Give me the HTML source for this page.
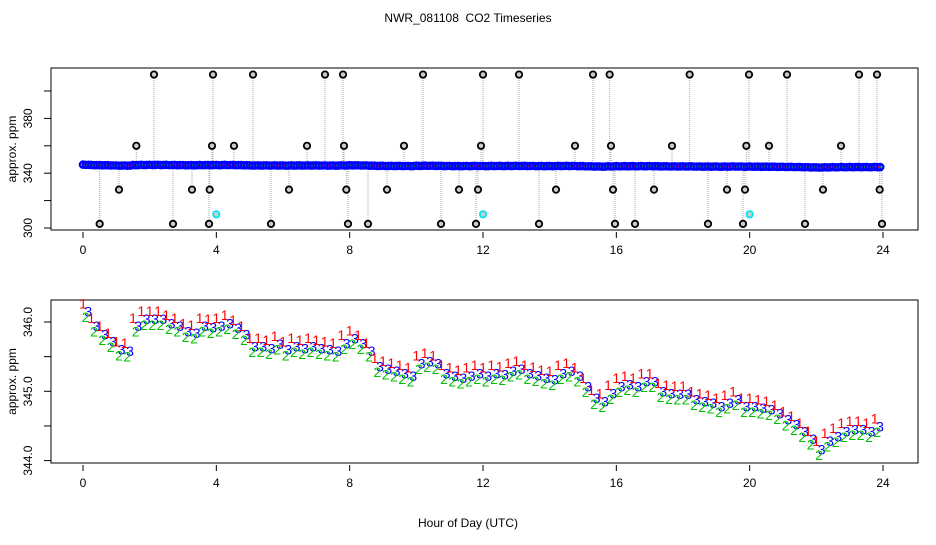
<!DOCTYPE html>
<html><head><meta charset="utf-8"><style>
body{margin:0;background:#fff}
svg text{font-family:"Liberation Sans",sans-serif;font-size:12px;fill:#000}
</style></head><body>
<svg id="c" width="936" height="540" xmlns="http://www.w3.org/2000/svg">
<text x="468" y="22" text-anchor="middle" style="white-space:pre">NWR_081108  CO2 Timeseries</text>
<text x="468" y="527" text-anchor="middle">Hour of Day (UTC)</text>
<g id="topPanel"></g>
<g id="botPanel"></g>
</svg>
<script>
const baseValues=[346.17,345.96,345.84,345.74,345.62,345.60,345.96,346.06,346.06,346.06,346.00,345.96,345.88,345.86,345.96,345.94,
345.96,346.00,345.93,345.84,345.67,345.67,345.64,345.70,345.62,345.67,345.64,345.67,345.64,345.62,345.60,345.71,
345.78,345.71,345.60,345.38,345.34,345.31,345.28,345.24,345.42,345.45,345.42,345.28,345.24,345.21,345.24,345.28,
345.24,345.28,345.26,345.31,345.34,345.28,345.25,345.21,345.19,345.28,345.31,345.24,345.09,344.92,344.87,344.99,
345.09,345.12,345.09,345.16,345.16,345.02,344.99,344.98,344.98,344.90,344.87,344.85,344.80,344.85,344.90,344.80,
344.80,344.78,344.76,344.70,344.61,344.54,344.44,344.33,344.18,344.30,344.37,344.44,344.47,344.47,344.44,344.51];
const timeStep=0.25;
const seriesLabels=["1","2","3"];
const seriesOffsets=[0.1,-0.1,-0.02];
const seriesTimeShift=[0.0,0.08,0.16];
const outlierTimes=[0.5,1.08,1.6,2.13,2.7,3.27,3.78,3.8,3.87,3.9,4.53,5.1,5.64,6.18,6.72,7.26,7.8,7.83,7.9,7.95,
8.55,9.12,9.63,10.2,10.74,11.28,11.79,11.85,11.94,12.0,13.08,13.68,14.19,14.76,15.3,15.8,15.84,15.9,15.96,
16.56,17.13,17.67,18.2,18.75,19.32,19.8,19.86,19.9,19.98,20.58,21.12,21.66,22.2,22.74,23.28,23.82,23.9,23.97];
const outlierValues=[303,328,360,412,303,328,303,328,360,412,360,412,303,328,360,412,412,360,328,303,
303,328,360,412,303,328,303,328,360,412,412,303,328,360,412,412,360,328,303,
303,328,360,412,303,328,303,328,360,412,360,412,303,328,360,412,412,328,303];
const calTimes=[4.0,12.0,20.0];
const calValues=[310,310,310];
const xTicks=[0,4,8,12,16,20,24];
const topTicks=[300,320,340,360,380,400];
const topTickLabels=["300","","340","","380",""];
const botTicks=[344.0,344.5,345.0,345.5,346.0];
const botTickLabels=["344.0","","345.0","","346.0"];

const NS="http://www.w3.org/2000/svg";
function mk(p,t,a){const e=document.createElementNS(NS,t);for(const k in a)e.setAttribute(k,a[k]);p.appendChild(e);return e;}
const X=h=>83+h*(800/24);
const Ytop=v=>228-(v-300)*1.37;
const Ybot=v=>322-(v-346)*69.3;

function frame(g,y0,y1,ticks,labels,Y,name){
  const r=mk(g,'rect',{x:51,y:y0,width:867,height:y1-y0,fill:'none',stroke:'#000'});
  
  
  xTicks.forEach(h=>{
    const l=mk(g,'line',{x1:X(h),x2:X(h),y1:y1+2,y2:y1+8,stroke:'#000'});
    
    
    const t=mk(g,'text',{x:X(h),y:y1+24,'text-anchor':'middle'});t.textContent=h;
    
    
  });
  ticks.forEach((v,i)=>{
    const y=Y(v);
    const l=mk(g,'line',{x1:44,x2:51,y1:y,y2:y,stroke:'#000'});
    
    
    if(labels[i]){const t=mk(g,'text',{x:32,y:y,'text-anchor':'middle',transform:`rotate(-90 32 ${y})`});t.textContent=labels[i];
    
    }
  });
  const yt=mk(g,'text',{x:16,y:(y0+y1)/2,'text-anchor':'middle',transform:`rotate(-90 16 ${(y0+y1)/2})`});yt.textContent='approx. ppm';
  
  
}
const topG=document.getElementById('topPanel'),botG=document.getElementById('botPanel');
frame(topG,68,230,topTicks,topTickLabels,Ytop,'top');
frame(botG,300,463,botTicks,botTickLabels,Ybot,'bottom');

outlierTimes.forEach((h,i)=>{
  const l=mk(topG,'line',{x1:X(h),x2:X(h),y1:Ytop(346),y2:Ytop(outlierValues[i]),stroke:'#aaa','stroke-dasharray':'1 1'});
  
  
});
const innerCols=['#ff0000','#00cc00'];
baseValues.forEach((v,i)=>{
  for(let k=0;k<3;k++){
    const h=i*timeStep+k*0.083;
    const c=mk(topG,'circle',{cx:X(h),cy:Ytop(v+seriesOffsets[k]),r:3.2,fill:'none',stroke:'#0000ff','stroke-width':2.2});
    
    
    const d=mk(topG,'circle',{cx:X(h)+1,cy:Ytop(v+seriesOffsets[k]),r:1,fill:innerCols[(i+k)%3==0?0:1]});
    
    
  }
});
outlierTimes.forEach((h,i)=>{
  const c=mk(topG,'circle',{cx:X(h),cy:Ytop(outlierValues[i]),r:3.2,fill:'#ccc',stroke:'#000','stroke-width':1.8});
  
  
});
calTimes.forEach((h,i)=>{
  const c=mk(topG,'circle',{cx:X(h),cy:Ytop(calValues[i]),r:3.2,fill:'#ccc',stroke:'#00e5ee','stroke-width':1.8});
  
  
});
const serCols=['#ff0000','#00c000','#0000ff'];
for(let k=2;k>=0;k--){
  baseValues.forEach((v,i)=>{
    const h=i*timeStep+seriesTimeShift[k];
    const t=mk(botG,'text',{x:X(h),y:Ybot(v+seriesOffsets[k])+5,'text-anchor':'middle',style:'font-size:14px;fill:'+serCols[k]});
    t.textContent=seriesLabels[k];
    
    
  });
}
</script>
</body></html>
